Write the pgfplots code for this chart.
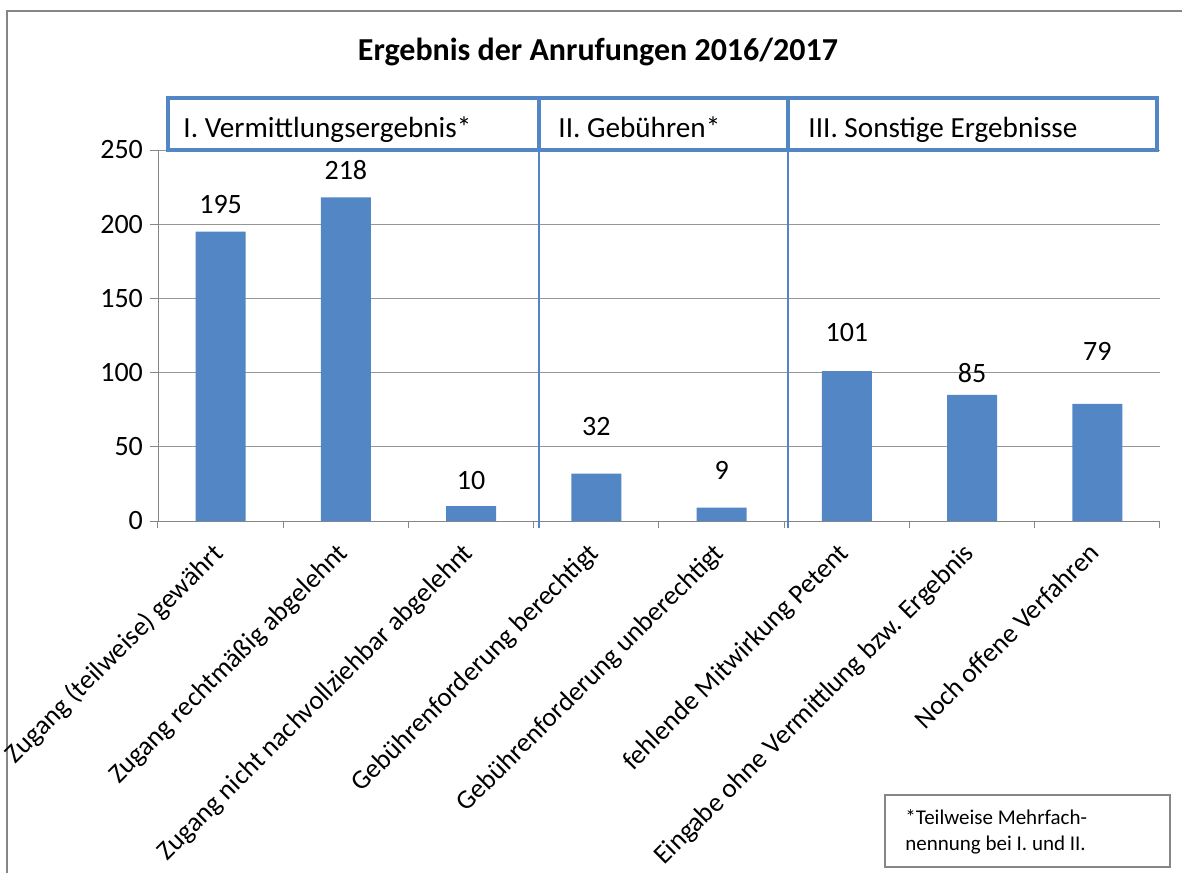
\documentclass[border=0pt]{standalone}
\usepackage{pgfplots}
\pgfplotsset{compat=1.18}
\usepackage{pgfplotstable}
\usepackage{fontspec}
\setmainfont{Carlito}
\definecolor{barblue}{RGB}{83,134,196}
\definecolor{axgray}{RGB}{134,134,134}
\definecolor{gridgray}{RGB}{150,150,150}

\pgfplotstableread{
x y
0 195
1 218
2 10
3 32
4 9
5 101
6 85
7 79
}\bars

\pgfplotstableread{
x ly lab
0 213 195
1 236.5 218
2 27.6 10
3 64 32
4 34.4 9
5 126.7 101
6 99.7 85
7 114.6 79
}\labs

\begin{document}
\begin{tikzpicture}
\useasboundingbox (-79pt,-175.5pt) rectangle (512pt,260.5pt);
\draw[axgray, line width=1pt] (-75.5pt,-190pt) -- (-75.5pt,255pt) -- (530pt,255pt);
\begin{axis}[
  scale only axis,
  width=501pt, height=185.5pt,
  xmin=-0.5, xmax=7.5, ymin=0, ymax=250,
  clip=false,
  axis line style={axgray},
  axis x line*=bottom, axis y line*=left,
  ytick={0,50,...,250},
  ymajorgrids, grid style={gridgray, line width=0.5pt},
  tick align=outside,
  tick style={axgray, line width=0.5pt},
  major tick length=4pt,
  xtick={0,...,7},
  major x tick style={draw=none},
  minor xtick={-0.5,0.5,...,7.5},
  minor x tick style={axgray, line width=0.5pt},
  minor tick length=3.5pt,
  xticklabels={Zugang (teilweise) gewährt,Zugang rechtmäßig abgelehnt,Zugang nicht nachvollziehbar abgelehnt,Gebührenforderung berechtigt,Gebührenforderung unberechtigt,fehlende Mitwirkung Petent,Eingabe ohne Vermittlung bzw. Ergebnis,Noch offene Verfahren},
  x tick label style={xshift=-5pt, yshift=-4.5pt, rotate=45, anchor=north east, font=\fontsize{13.5}{16}\selectfont, inner sep=1pt},
  y tick label style={font=\fontsize{14}{16}\selectfont},
  /pgf/number format/assume math mode=true,
]
\addplot[ybar, bar width=25pt, fill=barblue, draw=none] table[x=x,y=y]{\bars};
\addplot[draw=none, mark=none, nodes near coords, point meta=explicit symbolic,
  every node near coord/.append style={anchor=center, font=\fontsize{14}{16}\selectfont}]
  table[x=x,y=ly,meta=lab]{\labs};
\draw[barblue, line width=1pt] (axis cs:2.54,-4.7) -- (axis cs:2.54,250);
\draw[barblue, line width=1pt] (axis cs:4.53,-4.7) -- (axis cs:4.53,250);
\draw[barblue, line width=2pt, fill=white] (axis cs:-0.42,250) rectangle (axis cs:7.476,285);
\draw[barblue, line width=2pt] (axis cs:2.54,250) -- (axis cs:2.54,285);
\draw[barblue, line width=2pt] (axis cs:4.53,250) -- (axis cs:4.53,285);
\node[anchor=base west, inner sep=0pt, font=\fontsize{14.6}{17}\selectfont] at (axis cs:-0.30,258.1) {I. Vermittlungsergebnis*};
\node[anchor=base west, inner sep=0pt, font=\fontsize{14.6}{17}\selectfont] at (axis cs:2.694,258.1) {II. Gebühren*};
\node[anchor=base west, inner sep=0pt, font=\fontsize{14.6}{17}\selectfont] at (axis cs:4.69,258.1) {III. Sonstige Ergebnisse};
\end{axis}
\node[font=\bfseries\fontsize{16}{19}\selectfont] at (220pt,234.5pt) {Ergebnis der Anrufungen 2016/2017};
\draw[axgray, line width=0.8pt] (363.5pt,-137pt) rectangle (506pt,-173pt);
\node[anchor=north west, align=left, inner sep=0pt, font=\fontsize{10.5}{13}\selectfont] at (373.5pt,-144pt) {*Teilweise Mehrfach-\\nennung bei I.\ und II.};
\end{tikzpicture}
\end{document}
